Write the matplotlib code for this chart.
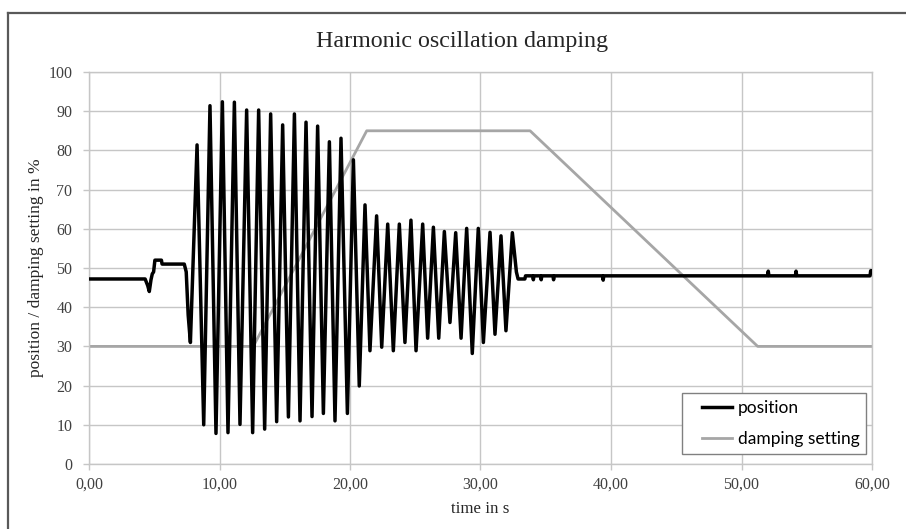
import matplotlib
matplotlib.use("Agg")
import matplotlib.pyplot as plt
from matplotlib.lines import Line2D
from matplotlib.legend_handler import HandlerLine2D

# position signal (time in s, value in %)
pos_t = [0.0, 4.3, 4.5, 4.62, 4.75, 4.85, 4.95, 5.05, 5.55, 5.6, 7.3, 7.45, 7.6, 7.77,
         8.28, 8.79, 9.27, 9.73, 10.22, 10.65, 11.14, 11.57, 12.08, 12.54, 13.0, 13.46,
         13.92, 14.38, 14.84, 15.28, 15.74, 16.17, 16.63, 17.09, 17.52, 17.96, 18.42,
         18.85, 19.31, 19.8, 20.26, 20.71, 21.15, 21.53, 22.04, 22.43, 22.89, 23.32,
         23.78, 24.21, 24.67, 25.06, 25.57, 25.95, 26.39, 26.8, 27.23, 27.66, 28.1,
         28.51, 28.94, 29.37, 29.83, 30.22, 30.73, 31.11, 31.57, 31.95, 32.44, 32.75,
         32.88, 33.4, 33.45, 34.0, 34.05, 34.1, 34.6, 34.65, 34.7, 35.55, 35.6, 35.65,
         39.35, 39.4, 39.45, 52.0, 52.05, 52.1, 54.13, 54.18, 54.23, 59.85, 59.9, 60.0]
pos_v = [47.2, 47.2, 45.5, 44.0, 47.0, 48.5, 49.0, 52.0, 52.0, 51.0, 51.0, 49.0, 38.0, 31.0,
         81.4, 10.0, 91.4, 7.8, 92.4, 8.0, 92.3, 10.1, 90.3, 8.0, 90.3, 8.9,
         89.3, 10.8, 86.5, 12.0, 89.3, 11.0, 87.2, 12.1, 86.2, 12.9, 82.2,
         11.0, 83.1, 12.9, 77.6, 19.9, 66.1, 28.9, 63.3, 29.8, 61.2, 28.9,
         61.2, 31.0, 62.2, 28.9, 61.2, 32.1, 60.4, 32.1, 59.3, 36.1, 59.0,
         32.1, 60.1, 28.2, 60.1, 31.0, 59.1, 33.1, 58.2, 34.0, 59.0, 49.0,
         47.2, 47.2, 48.0, 48.0, 47.0, 48.0, 48.0, 47.0, 48.0, 48.0, 47.0, 48.0,
         48.0, 46.9, 48.0, 48.0, 49.2, 48.0, 48.0, 49.2, 48.0, 48.0, 49.3, 49.3]

# damping setting corner points
damp_t = [0.0, 12.59, 21.28, 33.8, 51.24, 60.0]
damp_v = [30.0, 30.0, 85.0, 85.0, 30.0, 30.0]

x_ticks = [0, 10, 20, 30, 40, 50, 60]
x_labels = ["0,00", "10,00", "20,00", "30,00", "40,00", "50,00", "60,00"]
y_ticks = list(range(0, 101, 10))

serif = "Liberation Serif"
grid_c = "#c6c6c6"

fig = plt.figure(figsize=(9.06, 5.29), dpi=100)
ax = fig.add_axes([89 / 906, 65 / 529, 783 / 906, 392 / 529])

ax.plot(pos_t, pos_v, color="black", lw=2.5, solid_joinstyle="round", label="position", zorder=3)
ax.plot(damp_t, damp_v, color="#a6a6a6", lw=2.0, label="damping setting", zorder=2)

ax.set_xlim(0, 60)
ax.set_ylim(0, 100)
ax.set_xticks(x_ticks)
ax.set_xticklabels(x_labels)
ax.set_yticks(y_ticks)
ax.grid(True, color=grid_c, lw=1.0)
ax.set_axisbelow(True)
for s in ax.spines.values():
    s.set_color(grid_c)
    s.set_linewidth(1.0)
ax.tick_params(axis="both", color=grid_c, length=4, width=1.0, labelsize=11.5)
ax.tick_params(axis="y", pad=8)
ax.tick_params(axis="x", pad=5)
for lab in ax.get_xticklabels() + ax.get_yticklabels():
    lab.set_fontfamily(serif)
    lab.set_color("#404040")

ax.set_xlabel("time in s", fontfamily=serif, fontsize=12.2, color="#262626", labelpad=6)
ax.set_ylabel("position / damping setting in %", fontfamily=serif, fontsize=12.5,
              color="#262626", labelpad=3)

fig.text(0.51, 1 - 42 / 529, "Harmonic oscillation damping", ha="center", va="center",
         fontfamily=serif, fontsize=17.3, color="#262626")

leg = ax.legend(loc="lower right", bbox_to_anchor=(866 / 906, 75 / 529),
                bbox_transform=fig.transFigure, borderaxespad=0, fancybox=False,
                framealpha=1, edgecolor="#808080", handlelength=2.55, handletextpad=0.3,
                borderpad=0.38, labelspacing=0.9, prop={"family": "Lato", "size": 12.5},
                handler_map={Line2D: HandlerLine2D(xpad=0.8)})
leg.get_frame().set_linewidth(1.0)

# outer chart border
fig.add_artist(Line2D([8 / 906, 1.0], [1 - 13 / 529, 1 - 13 / 529], color="#595959", lw=1.6,
                      transform=fig.transFigure))
fig.add_artist(Line2D([8 / 906, 8 / 906], [0.0, 1 - 13 / 529], color="#595959", lw=1.6,
                      transform=fig.transFigure))

fig.savefig("out.png", dpi=100)
